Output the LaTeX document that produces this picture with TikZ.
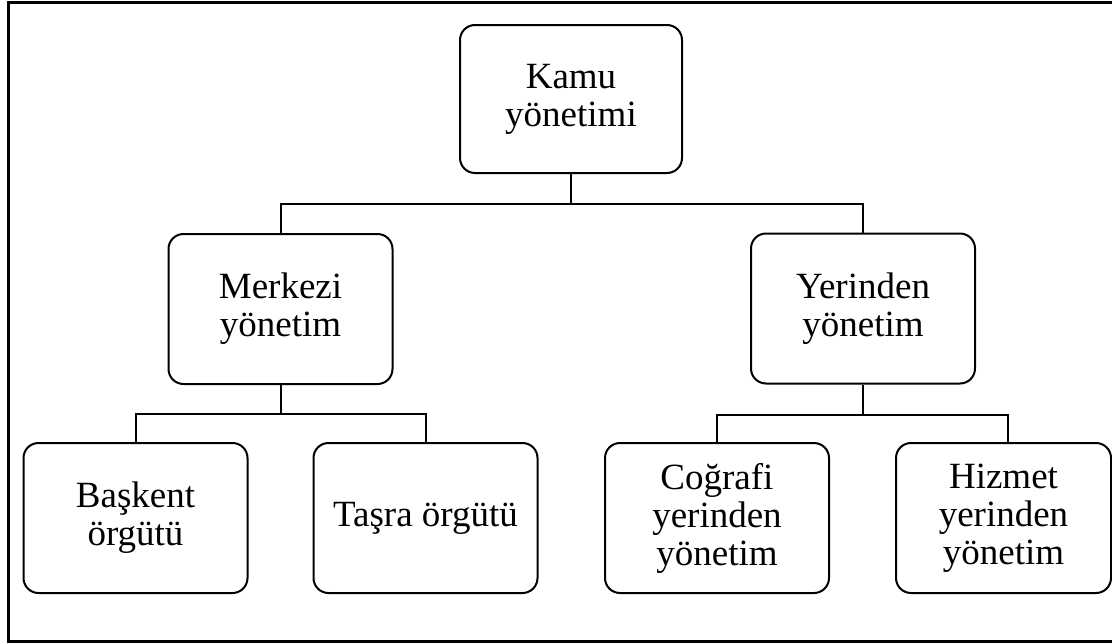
\documentclass[tikz,border=0pt]{standalone}
\usepackage{fontspec}
\setmainfont{Liberation Serif}
\begin{document}
\begin{tikzpicture}[x=1pt,y=-1pt,
  box/.style={draw, line width=2pt, rounded corners=15pt, minimum width=224pt, minimum height=150pt,
    align=center, inner sep=0pt, font=\fontsize{37}{38}\selectfont},
  link/.style={line width=2pt}]
\useasboundingbox (0,0) rectangle (1112,643);
\draw[line width=3pt] (8,2) rectangle (1120,641);
\node[box, minimum width=222pt, minimum height=148pt] (kamu) at (571,99) {Kamu\\yönetimi};
\node[box] (merkezi) at (280.5,309) {Merkezi\\yönetim};
\node[box] (yerinden) at (863,308.5) {Yerinden\\yönetim};
\node[box] (baskent) at (135.5,518) {Başkent\\örgütü};
\node[box] (tasra) at (425.5,518) {Taşra örgütü};
\node[box] (cografi) at (717,518) {Coğrafi\\yerinden\\yönetim};
\node[box, minimum width=215pt] (hizmet) at (1003.5,518) {Hizmet\\yerinden\\yönetim};
\draw[link] (kamu.south) -- ++(0,30) coordinate (k1);
\draw[link] (merkezi.north) |- (k1) -| (yerinden.north);
\draw[link] (merkezi.south) -- ++(0,29) coordinate (m1);
\draw[link] (baskent.north) |- (m1) -| (tasra.north);
\draw[link] (yerinden.south) -- ++(0,30.5) coordinate (y1);
\draw[link] (cografi.north) |- (y1) -| ([xshift=4.5pt]hizmet.north);
\end{tikzpicture}
\end{document}
